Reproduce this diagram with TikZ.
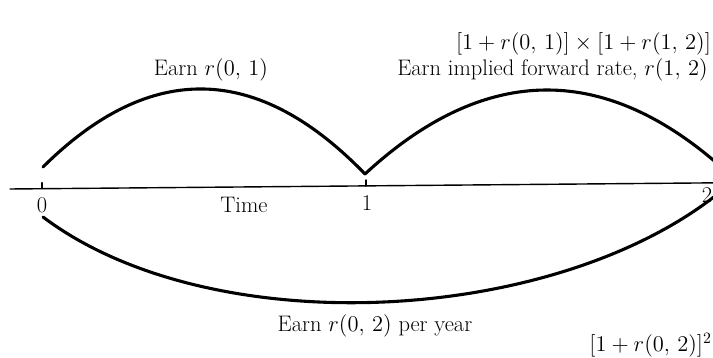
\RequirePackage{fix-cm}
\documentclass[tikz,border=0pt]{standalone}
\usepackage{fontspec}
\usepackage{tkz-euclide}
\usetikzlibrary{calc}
\tikzset{arcline/.style={line width=2.2pt,line cap=round},
  lbl/.style={font=\fontsize{16}{19}\selectfont,inner sep=0pt}}

\begin{document}
\begin{tikzpicture}
\tkzSetUpLine[line width=1pt,color=black]

\useasboundingbox (0,0) rectangle (17.825,8.95);
\clip (0,0) rectangle (17.825,8.95);

\tkzDefPoints{0.25/4.225/L,18.0/4.38/R,1.05/4.233/T0,1.05/4.383/U0,9.15/4.3/T1,9.15/4.45/U1}
\tkzDefPoints{1.075/4.775/A0,9.125/4.6/A1,18.225/4.6/A2,1.075/3.525/B0,18.125/4.25/B2}
% control points of the arcs
\tkzDefPoints{3.758/7.433/Ca,6.442/7.375/Cb,12.158/7.4/Cc,15.192/7.4/Cd,5.325/0.325/Ce,14.05/0.825/Cf}

% time axis
\tkzDrawSegments(L,R T0,U0 T1,U1)

% one-year arcs and two-year arc
\draw[arcline] (A0) .. controls (Ca) and (Cb) .. (A1);
\draw[arcline] (A1) .. controls (Cc) and (Cd) .. (A2);
\draw[arcline] (B0) .. controls (Ce) and (Cf) .. (B2);

\node[lbl] (n0) at (1.05,3.825) {0};
\node[lbl] (nt) at (6.1,3.825) {Time};
\node[lbl] (n1) at (9.175,3.875) {1};
\node[lbl] (n2) at (17.675,4.075) {2};

\node[lbl] (e01) at (5.275,7.2) {Earn $r(0,\,1)$};
\node[lbl,anchor=east] (e12) at (17.7,7.2) {Earn implied forward rate, $r(1,\,2)$};
\node[lbl,anchor=east] (top) at (17.78,7.85) {$[1+r(0,\,1)]\times[1+r(1,\,2)]$};
\node[lbl] (e02) at (9.375,0.8) {Earn $r(0,\,2)$ per year};
\node[lbl,anchor=base east] (bot) at (17.8,0.15) {$[1+r(0,\,2)]^2$};

\end{tikzpicture}
\end{document}
